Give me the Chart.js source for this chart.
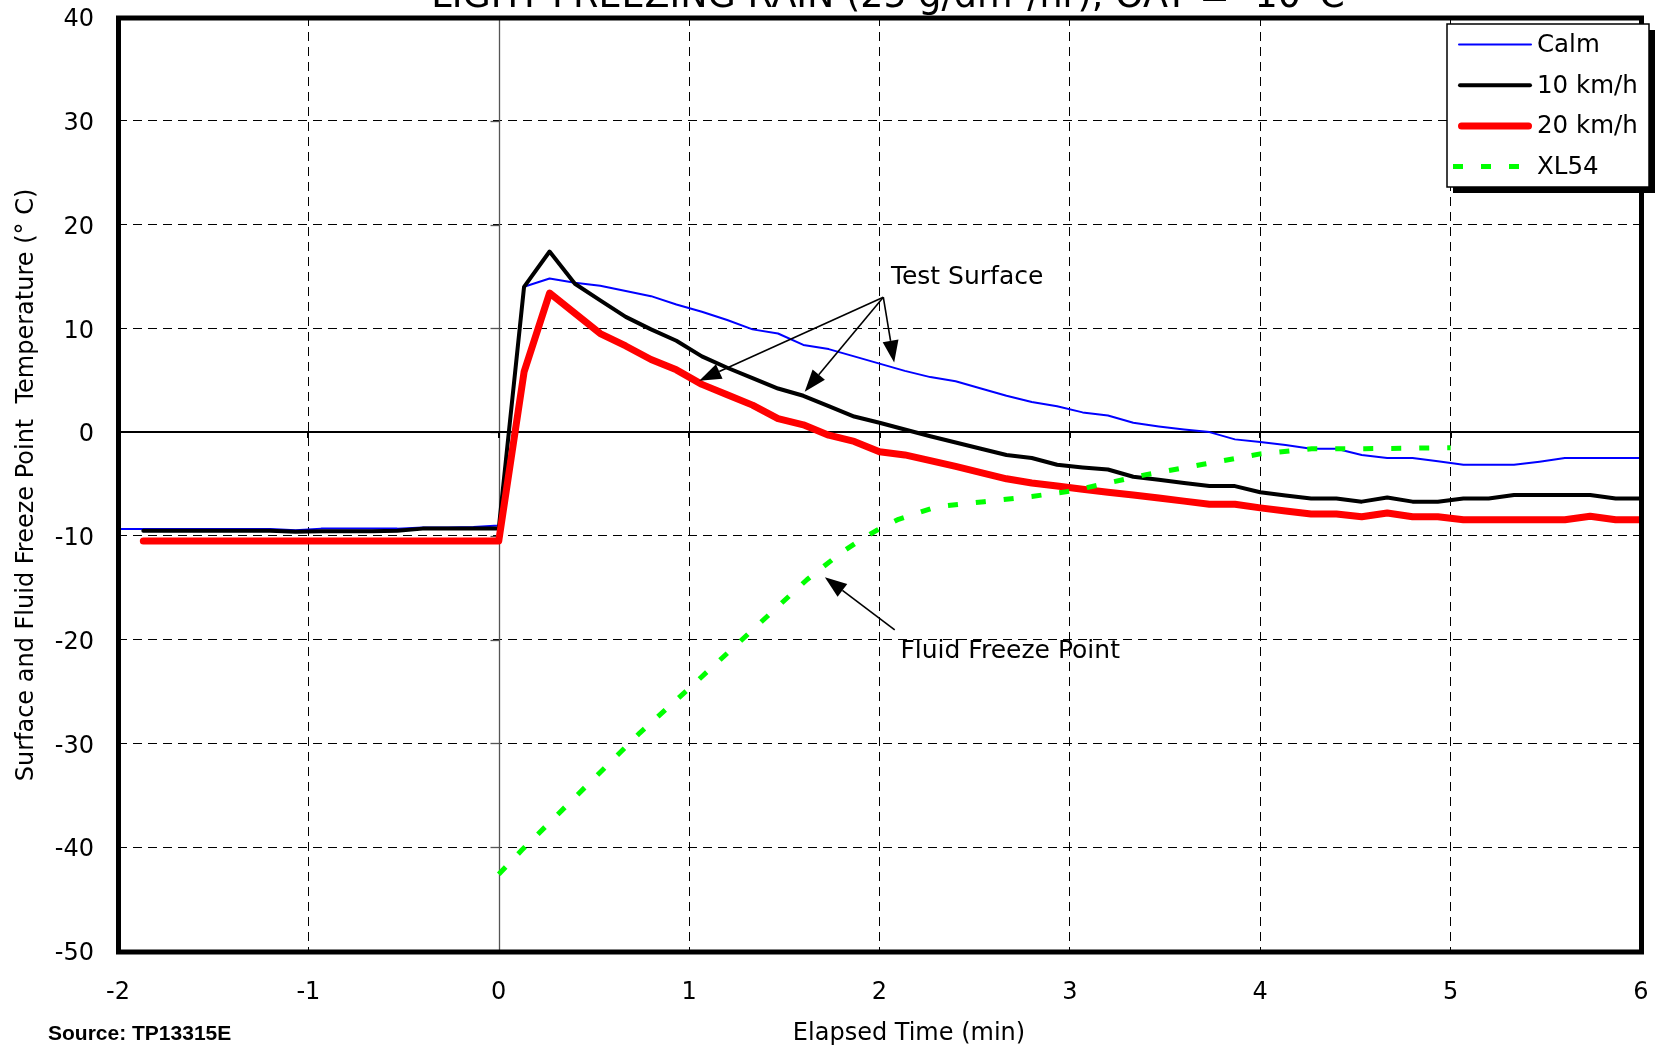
<!DOCTYPE html>
<html><head><meta charset="utf-8">
<script src="https://cdn.jsdelivr.net/npm/chart.js@4.4.1/dist/chart.umd.min.js"></script>
<style>html,body{margin:0;padding:0;background:#fff;}canvas{display:block;}</style>
</head><body>
<canvas id="c" width="1661" height="1051"></canvas>
<script>
// ---------- text ----------
const chartTitle = "LIGHT FREEZING RAIN (25 g/dm²/hr), OAT = -10°C";
const sourceNote = "Source: TP13315E";
const xAxisTitle = "Elapsed Time (min)";
const yAxisTitle = "Surface and Fluid Freeze Point  Temperature (° C)";
const seriesNames = ["Calm", "10 km/h", "20 km/h", "XL54"];

// ---------- data ----------
const elapsedMin = [-2.000, -1.867, -1.733, -1.600, -1.467, -1.333, -1.200, -1.067, -0.933, -0.800,
  -0.667, -0.533, -0.400, -0.267, -0.133, 0.000, 0.133, 0.267, 0.400, 0.533,
  0.667, 0.800, 0.933, 1.067, 1.200, 1.333, 1.467, 1.600, 1.733, 1.867,
  2.000, 2.133, 2.267, 2.400, 2.533, 2.667, 2.800, 2.933, 3.067, 3.200,
  3.333, 3.467, 3.600, 3.733, 3.867, 4.000, 4.133, 4.267, 4.400, 4.533,
  4.667, 4.800, 4.933, 5.067, 5.200, 5.333, 5.467, 5.600, 5.733, 5.867, 6.000];

const calmTemp = [-9.33, -9.33, -9.33, -9.33, -9.33, -9.33, -9.33, -9.45, -9.3, -9.3,
  -9.3, -9.3, -9.2, -9.2, -9.15, -9.0, 14.0, 14.8, 14.4, 14.1,
  13.6, 13.1, 12.3, 11.6, 10.8, 9.9, 9.5, 8.4, 8.0, 7.3,
  6.6, 5.9, 5.3, 4.9, 4.2, 3.5, 2.9, 2.5, 1.9, 1.6,
  0.9, 0.55, 0.25, 0.0, -0.7, -0.95, -1.25, -1.6, -1.6, -2.2,
  -2.5, -2.5, -2.8, -3.15, -3.15, -3.15, -2.85, -2.5, -2.5, -2.5, -2.5];

const wind10Temp = [null, -9.5, -9.5, -9.5, -9.5, -9.5, -9.5, -9.6, -9.55, -9.55,
  -9.55, -9.5, -9.3, -9.3, -9.3, -9.3, 14.0, 17.4, 14.3, 12.7,
  11.1, 9.9, 8.8, 7.3, 6.2, 5.2, 4.2, 3.5, 2.5, 1.5,
  0.9, 0.25, -0.4, -1.0, -1.6, -2.2, -2.5, -3.15, -3.4, -3.6,
  -4.3, -4.6, -4.9, -5.2, -5.2, -5.8, -6.1, -6.4, -6.4, -6.7,
  -6.3, -6.7, -6.7, -6.4, -6.4, -6.05, -6.05, -6.05, -6.05, -6.4, -6.4];

const wind20Temp = [null, -10.5, -10.5, -10.5, -10.5, -10.5, -10.5, -10.5, -10.5, -10.5,
  -10.5, -10.5, -10.5, -10.5, -10.5, -10.5, 5.8, 13.4, 11.45, 9.5,
  8.3, 7.0, 6.0, 4.6, 3.6, 2.6, 1.3, 0.7, -0.3, -0.9,
  -1.9, -2.2, -2.75, -3.3, -3.9, -4.5, -4.9, -5.2, -5.5, -5.8,
  -6.05, -6.35, -6.65, -6.95, -6.95, -7.3, -7.6, -7.9, -7.9, -8.15,
  -7.8, -8.15, -8.15, -8.45, -8.45, -8.45, -8.45, -8.45, -8.1, -8.45, -8.45];

const xl54Time = [0, 0.12, 0.74, 1.0, 1.62, 1.8, 1.9, 2.0, 2.1, 2.3, 2.55, 2.8, 3.0, 3.2, 3.4, 3.7, 4.0, 4.27, 4.55, 5.0];
const xl54FreezePoint = [-42.6, -40.3, -29.0, -24.7, -14.2, -11.6, -10.4, -9.3, -8.4, -7.2, -6.7, -6.2, -5.7, -4.9, -4.1, -3.1, -2.1, -1.6, -1.6, -1.5];

const xTickMin = -2, xTickMax = 6, xTickStep = 1;
const yTickMin = -50, yTickMax = 40, yTickStep = 10;

// ---------- annotations (data coordinates) ----------
const annotationText = ["Test Surface", "Fluid Freeze Point"];
const testSurfaceLabelAt = [2.06, 14.9];
const testSurfaceArrowTail = [2.02, 13.0];
const testSurfaceArrowHeads = [[1.053, 4.96], [1.607, 3.9], [2.077, 6.7]];
const freezeLabelAt = [2.11, -21.1];
const freezeArrowTail = [2.08, -19.06];
const freezeArrowHead = [1.713, -13.98];

// ---------- build ----------
const FONT = '"DejaVu Sans", Verdana, sans-serif';
const toPoints = (xs, ys) => xs.map((t, i) => ({x: t, y: ys[i]})).filter(p => p.y !== null);

const seriesStyles = [
  {color: '#0000ff', width: 2, dash: [], order: 4},
  {color: '#000000', width: 4, dash: [], order: 3},
  {color: '#ff0000', width: 7, dash: [], order: 2},
  {color: '#00ff00', width: 5, dash: [10, 18], order: 1}
];
const seriesData = [
  toPoints(elapsedMin, calmTemp),
  toPoints(elapsedMin, wind10Temp),
  toPoints(elapsedMin, wind20Temp),
  toPoints(xl54Time, xl54FreezePoint)
];

const datasets = seriesNames.map((name, i) => ({
  label: name,
  data: seriesData[i],
  borderColor: seriesStyles[i].color,
  backgroundColor: seriesStyles[i].color,
  borderWidth: seriesStyles[i].width,
  borderDash: seriesStyles[i].dash,
  borderCapStyle: seriesStyles[i].dash.length ? 'butt' : 'round',
  borderJoinStyle: 'round',
  pointRadius: 0,
  tension: 0,
  fill: false,
  order: seriesStyles[i].order
}));

function drawArrow(ctx, x1, y1, x2, y2, headLen, headHalf) {
  const dx = x2 - x1, dy = y2 - y1, len = Math.hypot(dx, dy);
  const ux = dx / len, uy = dy / len;
  const bx = x2 - ux * headLen, by = y2 - uy * headLen;
  ctx.beginPath(); ctx.moveTo(x1, y1); ctx.lineTo(bx, by); ctx.stroke();
  ctx.beginPath();
  ctx.moveTo(x2, y2);
  ctx.lineTo(bx - uy * headHalf, by + ux * headHalf);
  ctx.lineTo(bx + uy * headHalf, by - ux * headHalf);
  ctx.closePath(); ctx.fill();
}

const decor = {
  id: 'decor',
  beforeDatasetsDraw(chart) {
    const {ctx, chartArea: a, scales: {x, y}} = chart;
    ctx.save();
    const x0 = Math.round(x.getPixelForValue(0)) + 0.5;
    ctx.strokeStyle = '#555'; ctx.lineWidth = 1.3;
    ctx.beginPath(); ctx.moveTo(x0, a.top); ctx.lineTo(x0, a.bottom); ctx.stroke();
    y.ticks.forEach(t => {
      const py = Math.round(y.getPixelForValue(t.value)) + 0.5;
      ctx.beginPath(); ctx.moveTo(x0 - 9, py); ctx.lineTo(x0, py); ctx.stroke();
    });
    const y0 = Math.round(y.getPixelForValue(0));
    ctx.strokeStyle = '#000'; ctx.lineWidth = 2;
    ctx.beginPath(); ctx.moveTo(a.left, y0); ctx.lineTo(a.right, y0); ctx.stroke();
    x.ticks.forEach(t => {
      const px = Math.round(x.getPixelForValue(t.value));
      ctx.beginPath(); ctx.moveTo(px, y0); ctx.lineTo(px, y0 + 6); ctx.stroke();
    });
    ctx.restore();
  },
  afterDraw(chart) {
    const {ctx, chartArea: a, scales: {x, y}} = chart;
    const P = (v) => [x.getPixelForValue(v[0]), y.getPixelForValue(v[1])];
    ctx.save();
    ctx.strokeStyle = '#000'; ctx.lineWidth = 5;
    ctx.strokeRect(a.left + 0.5, a.top + 1, a.right - a.left, a.bottom - a.top);

    ctx.strokeStyle = '#000'; ctx.fillStyle = '#000'; ctx.lineWidth = 1.6;
    const tail = P(testSurfaceArrowTail);
    testSurfaceArrowHeads.forEach(h => { const p = P(h); drawArrow(ctx, tail[0], tail[1], p[0], p[1], 22, 8); });
    const ft = P(freezeArrowTail), fh = P(freezeArrowHead);
    drawArrow(ctx, ft[0], ft[1], fh[0], fh[1], 22, 8);
    ctx.font = '25px ' + FONT; ctx.textAlign = 'left'; ctx.textBaseline = 'middle';
    let lp = P(testSurfaceLabelAt); ctx.fillText(annotationText[0], lp[0], lp[1]);
    lp = P(freezeLabelAt); ctx.fillText(annotationText[1], lp[0], lp[1]);

    const L = {x: 1447, y: 24, w: 202, h: 163};
    ctx.fillStyle = '#000'; ctx.fillRect(L.x + 6, L.y + 6, L.w, L.h);
    ctx.fillStyle = '#fff'; ctx.fillRect(L.x, L.y, L.w, L.h);
    ctx.lineWidth = 1.5; ctx.strokeStyle = '#000'; ctx.strokeRect(L.x, L.y, L.w, L.h);
    chart.data.datasets.forEach((ds, i) => {
      const ry = 44.5 + i * 40.7;
      ctx.save();
      ctx.strokeStyle = ds.borderColor; ctx.lineWidth = ds.borderWidth;
      ctx.setLineDash(ds.borderDash || []); ctx.lineCap = ds.borderCapStyle;
      const s = ds.borderCapStyle === 'round' ? 1458 + ds.borderWidth / 2 : 1453;
      const e = ds.borderCapStyle === 'round' ? 1532 - ds.borderWidth / 2 : 1532;
      ctx.beginPath(); ctx.moveTo(s, ry); ctx.lineTo(e, ry); ctx.stroke();
      ctx.restore();
      ctx.fillStyle = '#000'; ctx.font = '24.5px ' + FONT; ctx.textAlign = 'left'; ctx.textBaseline = 'middle';
      ctx.fillText(ds.label, 1537, ry + 1);
    });

    ctx.fillStyle = '#000'; ctx.font = '36.5px ' + FONT; ctx.textAlign = 'center'; ctx.textBaseline = 'alphabetic';
    ctx.fillText(chartTitle, 888, 7);

    ctx.font = '24px ' + FONT; ctx.textBaseline = 'middle'; ctx.textAlign = 'center';
    ctx.fillText(xAxisTitle, 909, 1034);
    ctx.save(); ctx.translate(26.5, 485); ctx.rotate(-Math.PI / 2);
    ctx.font = '24px ' + FONT; ctx.fillText(yAxisTitle, 0, 0); ctx.restore();

    ctx.font = 'bold 21px "Liberation Sans", Arial, sans-serif'; ctx.textAlign = 'left'; ctx.textBaseline = 'alphabetic';
    ctx.fillText(sourceNote, 48, 1040);
    ctx.restore();
  }
};

new Chart(document.getElementById('c'), {
  type: 'line',
  data: {datasets},
  options: {
    responsive: false,
    animation: false,
    devicePixelRatio: 1,
    layout: {padding: {left: 0, top: 17, right: 20, bottom: 0}},
    plugins: {legend: {display: false}, title: {display: false}, tooltip: {enabled: false}},
    scales: {
      x: {
        type: 'linear', min: xTickMin, max: xTickMax,
        ticks: {stepSize: xTickStep, padding: 27, color: '#000', font: {family: FONT, size: 24}},
        grid: {color: c => (c.tick && c.tick.value === 0) ? 'rgba(0,0,0,0)' : '#000', lineWidth: 1, drawTicks: false},
        border: {display: false, dash: [9, 6]},
        afterFit: s => { s.height = 100; s.paddingLeft = 0; s.paddingRight = 0; s.paddingTop = 0; s.paddingBottom = 0; }
      },
      y: {
        type: 'linear', min: yTickMin, max: yTickMax,
        ticks: {stepSize: yTickStep, padding: 24, labelOffset: 3, color: '#000', font: {family: FONT, size: 24}},
        grid: {color: c => (c.tick && c.tick.value === 0) ? 'rgba(0,0,0,0)' : '#000', lineWidth: 1, drawTicks: false},
        border: {display: false, dash: [9, 6]},
        afterFit: s => { s.width = 118; s.paddingLeft = 0; s.paddingRight = 0; s.paddingTop = 0; s.paddingBottom = 0; }
      }
    }
  },
  plugins: [decor]
});
</script>
</body></html>
